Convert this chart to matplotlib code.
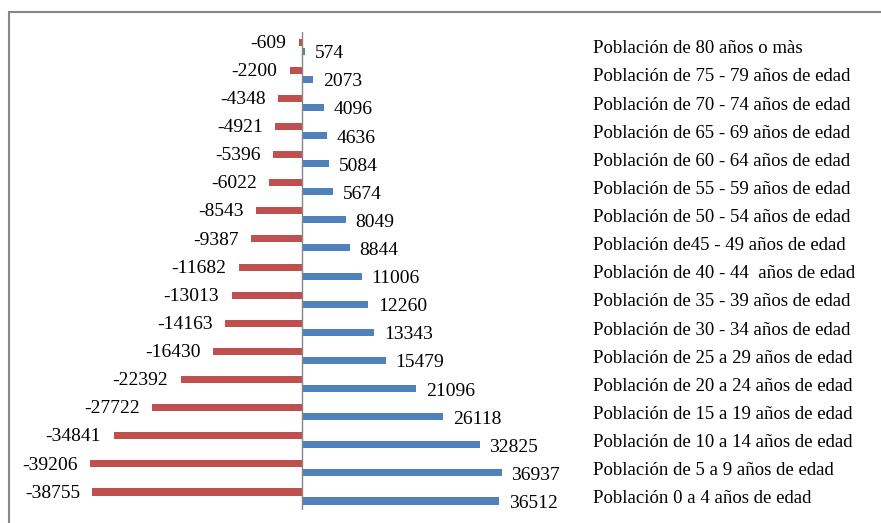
import matplotlib.pyplot as plt
import matplotlib.transforms as mtransforms
from matplotlib.patches import Rectangle
import numpy as np

plt.rcParams['font.family'] = ['Liberation Serif', 'DejaVu Serif']

# age groups, top to bottom
grupos = [
    'Población de 80 años o màs',
    'Población de 75 - 79 años de edad',
    'Población de 70 - 74 años de edad',
    'Población de 65 - 69 años de edad',
    'Población de 60 - 64 años de edad',
    'Población de 55 - 59 años de edad',
    'Población de 50 - 54 años de edad',
    'Población de45 - 49 años de edad',
    'Población de 40 - 44  años de edad',
    'Población de 35 - 39 años de edad',
    'Población de 30 - 34 años de edad',
    'Población de 25 a 29 años de edad',
    'Población de 20 a 24 años de edad',
    'Población de 15 a 19 años de edad',
    'Población de 10 a 14 años de edad',
    'Población de 5 a 9 años de edad',
    'Población 0 a 4 años de edad',
]
mujeres = [-609, -2200, -4348, -4921, -5396, -6022, -8543, -9387, -11682,
           -13013, -14163, -16430, -22392, -27722, -34841, -39206, -38755]
hombres = [574, 2073, 4096, 4636, 5084, 5674, 8049, 8844, 11006,
           12260, 13343, 15479, 21096, 26118, 32825, 36937, 36512]

W, H = 881, 523
fig = plt.figure(figsize=(W / 100, H / 100), dpi=100)

# outer chart border (runs off the right and bottom edges)
fig.patches.append(Rectangle((9 / W, -0.05), 1.0, 1 - 12 / H + 0.05,
                             transform=fig.transFigure, fill=False,
                             edgecolor='#868686', linewidth=1.5))

ax = fig.add_axes([30 / W, 13 / H, 544 / W, 478 / H])
y = np.arange(len(grupos))
h = 0.25
ax.barh(y - 0.14, mujeres, height=h, color='#C0504D')
ax.barh(y + 0.18, hombres, height=h, color='#4F81BD')

ax.set_xlim(-50300, 50300)
ax.set_ylim(len(grupos) - 0.5, -0.5)
ax.axvline(0, color='#868686', linewidth=1)
for s in ax.spines.values():
    s.set_visible(False)
ax.set_xticks([])
ax.set_yticks([])
ax.patch.set_alpha(0)

fs = 14
for i in range(len(grupos)):
    ax.annotate(str(mujeres[i]), (mujeres[i], i - 0.1), xytext=(-9, 0),
                textcoords='offset points', ha='right', va='center', fontsize=fs)
    ax.annotate(str(hombres[i]), (hombres[i], i + 0.27), xytext=(7, 0),
                textcoords='offset points', ha='left', va='center', fontsize=fs)

trans = mtransforms.blended_transform_factory(fig.transFigure, ax.transData)
for i, g in enumerate(grupos):
    ax.text(593 / W, i + 0.1, g, transform=trans, ha='left', va='center',
            fontsize=13.5)

fig.savefig('out.png', dpi=100)
